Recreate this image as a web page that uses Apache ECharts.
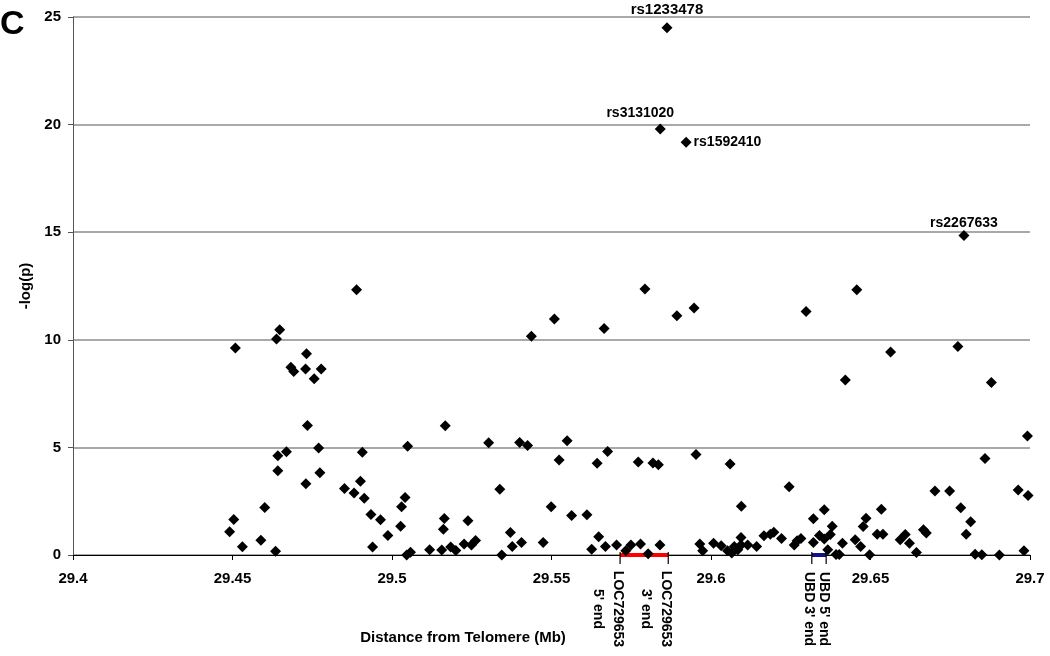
<!DOCTYPE html>
<html>
<head>
<meta charset="utf-8">
<script src="https://cdn.jsdelivr.net/npm/echarts@6/dist/echarts.min.js"></script>
<style>
html,body{margin:0;padding:0;background:#fff;}
#chart{width:1050px;height:656px;}
</style>
</head>
<body>
<div id="chart"></div>
<script>
// ---- data ----
const xTickValues = [29.4, 29.45, 29.5, 29.55, 29.6, 29.65, 29.7];
const yTickValues = [0, 5, 10, 15, 20, 25];

// [position (Mb), -log(p)]
const snpPoints = [
  [29.4648,10.47],[29.4638,10.04],[29.4509,9.62],[29.4732,9.35],[29.4683,8.73],[29.4692,8.53],
  [29.4729,8.64],[29.4778,8.64],[29.4756,8.19],[29.4735,6.02],[29.4770,4.97],[29.4642,4.61],
  [29.4669,4.80],[29.4907,4.78],[29.5049,5.05],[29.4642,3.91],[29.4774,3.82],[29.4730,3.31],
  [29.4901,3.43],[29.4851,3.09],[29.4881,2.88],[29.4913,2.64],[29.5041,2.67],[29.5030,2.24],
  [29.4601,2.21],[29.4934,1.88],[29.4964,1.64],[29.4504,1.65],[29.5027,1.34],[29.4491,1.08],
  [29.4987,0.91],[29.4589,0.69],[29.4531,0.38],[29.4939,0.37],[29.4635,0.18],[29.5046,0.0],
  [29.5058,0.13],[29.4889,12.33],
  [29.5509,10.97],[29.5437,10.16],[29.5665,10.53],[29.5167,6.01],[29.5303,5.22],[29.5400,5.23],
  [29.5425,5.09],[29.5549,5.31],[29.5524,4.41],[29.5643,4.26],[29.5676,4.81],[29.5338,3.05],
  [29.5499,2.24],[29.5563,1.84],[29.5611,1.87],[29.5164,1.70],[29.5161,1.20],[29.5238,1.59],
  [29.5371,1.05],[29.5377,0.40],[29.5406,0.58],[29.5474,0.58],[29.5648,0.85],[29.5626,0.27],
  [29.5669,0.40],[29.5704,0.46],[29.5118,0.24],[29.5156,0.23],[29.5184,0.37],[29.5200,0.21],
  [29.5226,0.51],[29.5249,0.47],[29.5262,0.67],[29.5344,0.0],
  [29.5793,12.36],[29.5893,11.12],[29.5947,11.48],[29.6298,11.32],[29.5772,4.32],[29.5818,4.27],
  [29.5835,4.19],[29.5953,4.67],[29.6060,4.23],[29.6245,3.17],[29.6095,2.26],[29.6321,1.68],
  [29.5733,0.20],[29.5749,0.46],[29.5779,0.51],[29.5803,0.06],[29.5840,0.47],[29.5965,0.51],
  [29.5974,0.20],[29.6008,0.55],[29.6032,0.43],[29.6052,0.20],[29.6065,0.09],[29.6073,0.40],
  [29.6084,0.24],[29.6094,0.81],[29.6094,0.47],[29.6115,0.46],[29.6143,0.40],[29.6166,0.89],
  [29.6186,0.97],[29.6197,1.06],[29.6221,0.77],[29.6261,0.47],[29.6270,0.66],[29.6282,0.77],
  [29.6321,0.58],[29.6340,0.91],
  [29.6457,12.33],[29.6563,9.43],[29.6774,9.69],[29.6421,8.13],[29.6879,8.01],[29.6992,5.53],
  [29.6859,4.49],[29.6702,2.97],[29.6748,2.97],[29.6963,3.02],[29.6994,2.77],[29.6783,2.19],
  [29.6814,1.54],[29.6800,0.97],[29.6828,0.04],[29.6849,0.01],[29.6904,0.0],[29.6981,0.20],
  [29.6534,2.13],[29.6486,1.71],[29.6477,1.33],[29.6521,0.97],[29.6539,0.97],[29.6452,0.71],
  [29.6469,0.40],[29.6497,0.01],[29.6355,2.10],[29.6380,1.34],[29.6374,0.95],[29.6355,0.74],
  [29.6412,0.55],[29.6366,0.24],[29.6392,0.02],[29.6402,0.02],[29.6593,0.71],[29.6609,0.95],
  [29.6622,0.55],[29.6644,0.12],[29.6666,1.17],[29.6675,1.02]
];

const labelledNames = ['rs1233478', 'rs3131020', 'rs1592410', 'rs2267633'];
const labelledPos   = [29.5862, 29.5841, 29.5922, 29.6793];
const labelledLogP  = [24.50, 19.80, 19.18, 14.85];

const geneStart      = [29.5715, 29.6316];
const geneEnd        = [29.5866, 29.6361];
const geneStartLabel = ["LOC729653\n5' end", "UBD 3' end"];
const geneEndLabel   = ["LOC729653\n3' end", "UBD 5' end"];

// ---- styles ----
const FONT = 'Liberation Sans, Arial, sans-serif';
const geneColors = ['#ff0000', '#10108a'];
const labelPlacement = [
  {position: 'top', distance: 5, offset: [0, 0], fontSize: 15},
  {position: 'top', distance: 3, offset: [-20, 0], fontSize: 14},
  {position: 'right', distance: 2, offset: [0, 0], fontSize: 14},
  {position: 'top', distance: 0, offset: [0, 0], fontSize: 14}
];

const chart = echarts.init(document.getElementById('chart'), null, {renderer: 'canvas'});

const labelledData = labelledNames.map((n, i) => ({
  name: n,
  value: [labelledPos[i], labelledLogP[i]],
  label: {
    show: true,
    formatter: '{b}',
    position: labelPlacement[i].position,
    distance: labelPlacement[i].distance,
    offset: labelPlacement[i].offset,
    fontSize: labelPlacement[i].fontSize,
    fontWeight: 'bold',
    fontFamily: FONT,
    color: '#000'
  }
}));

const geneData = geneStart.map((s, i) => [s, geneEnd[i], 0, i]);

function renderGene(params, api) {
  const i = api.value(3);
  const s = api.coord([api.value(0), 0]);
  const e = api.coord([api.value(1), 0]);
  const y0 = s[1];
  const txtStyle = (t) => ({
    text: t, fill: '#000', font: 'bold 14px ' + FONT,
    align: 'center', verticalAlign: 'top', lineHeight: 20
  });
  return {
    type: 'group',
    children: [
      {type: 'rect', shape: {x: s[0], y: y0 - 2, width: e[0] - s[0], height: 4},
       style: {fill: geneColors[i]}},
      {type: 'line', shape: {x1: s[0], y1: y0 - 3, x2: s[0], y2: y0 + 9},
       style: {stroke: '#000', lineWidth: 1.2}},
      {type: 'line', shape: {x1: e[0], y1: y0 - 3, x2: e[0], y2: y0 + 9},
       style: {stroke: '#000', lineWidth: 1.2}},
      {type: 'text', x: s[0] + 7.5, y: y0 + 54, rotation: -Math.PI / 2,
       style: txtStyle(geneStartLabel[i])},
      {type: 'text', x: e[0] + 7.5, y: y0 + 54, rotation: -Math.PI / 2,
       style: txtStyle(geneEndLabel[i])}
    ]
  };
}

const option = {
  animation: false,
  backgroundColor: '#fff',
  grid: {left: 73, right: 20, top: 17, bottom: 101, containLabel: false},
  xAxis: {
    type: 'value',
    min: xTickValues[0],
    max: xTickValues[xTickValues.length - 1],
    interval: 0.05,
    axisLine: {show: true, onZero: false, lineStyle: {color: '#000', width: 1}},
    axisTick: {show: true, length: 5, lineStyle: {color: '#000'}},
    axisLabel: {
      margin: 16, fontSize: 15, fontWeight: 'bold', fontFamily: FONT, color: '#000',
      formatter: (v) => String(+v.toFixed(2))
    },
    splitLine: {show: false}
  },
  yAxis: {
    type: 'value',
    min: yTickValues[0],
    max: yTickValues[yTickValues.length - 1],
    interval: 5,
    name: '-log(p)',
    nameLocation: 'middle',
    nameGap: 38,
    nameRotate: 90,
    nameTextStyle: {fontSize: 15, fontWeight: 'bold', fontFamily: FONT, color: '#000'},
    axisLine: {show: true, lineStyle: {color: '#555', width: 1}},
    axisTick: {show: true, length: 5, lineStyle: {color: '#555'}},
    axisLabel: {margin: 12, fontSize: 15, fontWeight: 'bold', fontFamily: FONT, color: '#000'},
    splitLine: {show: true, lineStyle: {color: '#8c8c8c', width: 1.5}}
  },
  graphic: [
    {type: 'text', left: 0, top: 8,
     style: {text: 'C', font: 'bold 34px ' + FONT, fill: '#000'}},
    {type: 'text', x: 463, y: 638,
     style: {text: 'Distance from Telomere (Mb)', font: 'bold 15px ' + FONT, fill: '#000',
             align: 'center', verticalAlign: 'middle'}}
  ],
  series: [
    {
      type: 'custom',
      z: 1,
      clip: false,
      renderItem: renderGene,
      encode: {x: [0, 1], y: 2},
      data: geneData,
      silent: true
    },
    {
      type: 'scatter',
      z: 3,
      symbol: 'diamond',
      symbolSize: 11,
      itemStyle: {color: '#000', opacity: 1},
      data: snpPoints,
      silent: true
    },
    {
      type: 'scatter',
      z: 4,
      symbol: 'diamond',
      symbolSize: 11,
      itemStyle: {color: '#000', opacity: 1},
      data: labelledData,
      silent: true
    }
  ]
};
chart.setOption(option);
</script>
</body>
</html>
